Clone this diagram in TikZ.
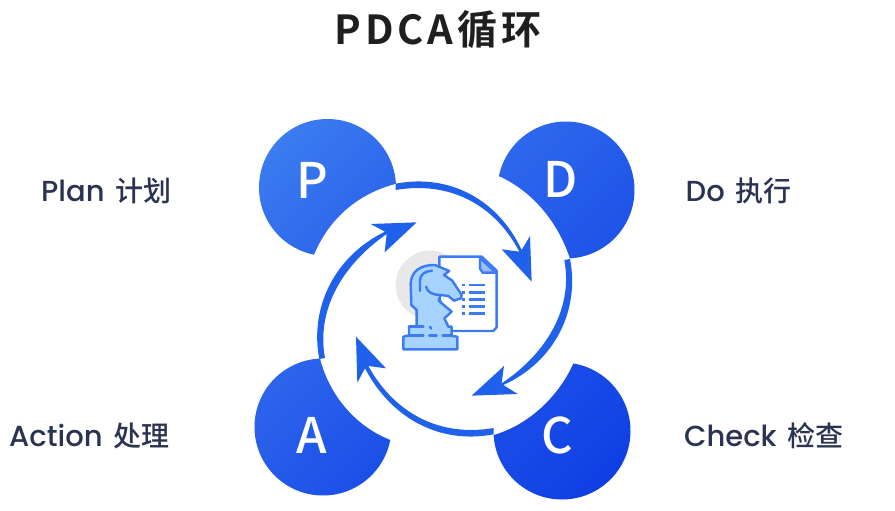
\documentclass[tikz,border=0pt]{standalone}
\usepackage{fontspec}
\setmainfont{Noto Sans CJK SC Medium}
\newfontfamily\cjf{Noto Sans CJK SC Medium}
\newfontfamily\ltf{Poppins Medium}
\newfontfamily\ttl[LetterSpace=9.5]{Noto Sans CJK SC Bold}
\definecolor{ink}{HTML}{2A3350}
\definecolor{arcc}{HTML}{2061EC}
\definecolor{ic}{HTML}{3C7BF2}
\definecolor{icf}{HTML}{A6D3FF}
\definecolor{pa}{HTML}{3B7CF0}\definecolor{pb}{HTML}{2A62EA}
\definecolor{da}{HTML}{2E68EC}\definecolor{db}{HTML}{1D53E8}
\definecolor{aa}{HTML}{2C64EB}\definecolor{ab}{HTML}{1B50E8}
\definecolor{ca}{HTML}{1C50E8}\definecolor{cb}{HTML}{0F3FE4}
\tikzset{
  bub/.style 2 args={circle,minimum size=137pt,inner sep=0pt,draw=none,top color=#1,bottom color=#2,shading angle=45},
  letter/.style={inner sep=0pt,text=white,font=\fontsize{49}{49}\selectfont},
  side/.style={inner sep=0pt,text=ink,anchor=base west},
  arcf/.style={fill=arcc,draw=none},
  zz/.style={x=.33333pt,y=-.33333pt,shift={(750,330)}},
  uu/.style={x=.33333pt,y=-.33333pt,shift={(1140,690)}},
  ln/.style={draw=ic,line width=2.4pt,line join=round,line cap=round}
}
\newcommand{\lb}[2]{{\ltf\fontsize{29}{29}\selectfont #1}\hspace{11pt}{\cjf\fontsize{28}{28}\selectfont #2}}
\begin{document}
\begin{tikzpicture}[x=1pt,y=-1pt]
\useasboundingbox (0,0) rectangle (895,511);
\fill[white] (0,0) rectangle (895,511);
\node[inner sep=0pt,font=\ttl\fontsize{40}{40}\selectfont,text=black!88] (title) at (438,30) {PDCA循环};
\node[side] (lp) at (41,201) {\lb{Plan}{计划}};
\node[side] (ld) at (685.5,201) {\lb{Do}{执行}};
\node[side] (la) at (9,446) {\lb{Action}{处理}};
\node[side] (lc) at (684,446) {\lb{Check}{检查}};
\node[bub={pa}{pb}] (cp) at (327.5,187.5) {};
\node[bub={da}{db}] (cd) at (566,190) {};
\node[bub={aa}{ab}] (ca) at (323,427) {};
\node[bub={ca}{cb}] (cc) at (562,431) {};
\node[letter] (tp) at (312,180) {P};
\node[letter] (td) at (561,179) {D};
\node[letter] (ta) at (312,435) {A};
\node[letter] (tc) at (557,435) {C};
\begin{scope}[zz]
\fill[white] (192,435) .. controls (240,320) and (330,250) .. (437,222) -- (584,597) -- cycle;
\fill[white] (745,198) .. controls (850,245) and (925,340) .. (960,447) -- (584,597) -- cycle;
\fill[white] (970,760) .. controls (925,860) and (835,945) .. (730,975) -- (584,597) -- cycle;
\fill[white] (422,990) .. controls (320,950) and (240,860) .. (210,745) -- (584,597) -- cycle;
\fill[white] (584,597) circle[radius=362];
% top right arrow
\path[arcf] (437,221) .. controls (600,190) and (745,270) .. (815,420)
  -- (840,378) -- (845,515) -- (755,418) -- (808,425)
  .. controls (735,285) and (600,212) .. (437,240) -- cycle;
% right to bottom
\path[arcf] (960,447) .. controls (990,600) and (915,755) .. (760,825)
  -- (803,852) -- (665,857) -- (762,768) -- (755,820)
  .. controls (890,730) and (970,595) .. (943,450) -- cycle;
% bottom to left
\path[arcf] (731,973) .. controls (568,1004) and (423,924) .. (345,775)
  -- (322,818) -- (318,680) -- (408,775) -- (355,768)
  .. controls (433,909) and (568,982) .. (731,954) -- cycle;
% left to top
\path[arcf] (208,747) .. controls (178,594) and (253,439) .. (405,365)
  -- (362,342) -- (500,337) -- (404,427) -- (410,372)
  .. controls (278,464) and (198,599) .. (225,744) -- cycle;
\end{scope}
\begin{scope}[uu]
\fill[black!9] (150,165) circle[radius=103];
% document
\path[ln,fill=white] (178,80) -- (305,80) -- (350,122) -- (350,292) -- (340,303) -- (200,303) -- (178,200) -- cycle;
\path[ln,fill=ic!50] (300,84) -- (300,116) -- (308,128) -- (348,128) -- cycle;
\foreach \y in {165,187,208,229,250}{
  \draw[ic,line width=2.8pt] (245,\y) -- (254,\y);
  \draw[ic,line width=2.8pt] (268,\y) -- (315,\y);
}
% knight
\path[ln,fill=icf] (110,288) -- (110,240) -- (94,225) -- (92,160)
  .. controls (94,125) and (120,104) .. (165,105)
  -- (208,123) -- (192,135) -- (217,152) -- (245,195) -- (243,205) -- (222,212) -- (205,198) -- (182,195)
  -- (176,212) -- (215,245) -- (193,265) -- (205,290) -- (215,290) -- (215,318) -- (232,320) -- (232,358)
  -- (70,358) -- (70,320) -- (87,316) -- (87,290) -- cycle;
\draw[ln] (120,183) -- (120,150) .. controls (122,132) and (135,124) .. (156,122);
\draw[ln] (138,170) .. controls (142,188) and (160,195) .. (182,195);
\draw[ln] (87,316) -- (130,316);
\draw[ln] (148,316) -- (170,316);
\draw[ln] (188,316) -- (215,316);
\draw[ln] (87,290) -- (130,290);
\draw[ln] (150,290) -- (153,296);
\end{scope}
\end{tikzpicture}
\end{document}
